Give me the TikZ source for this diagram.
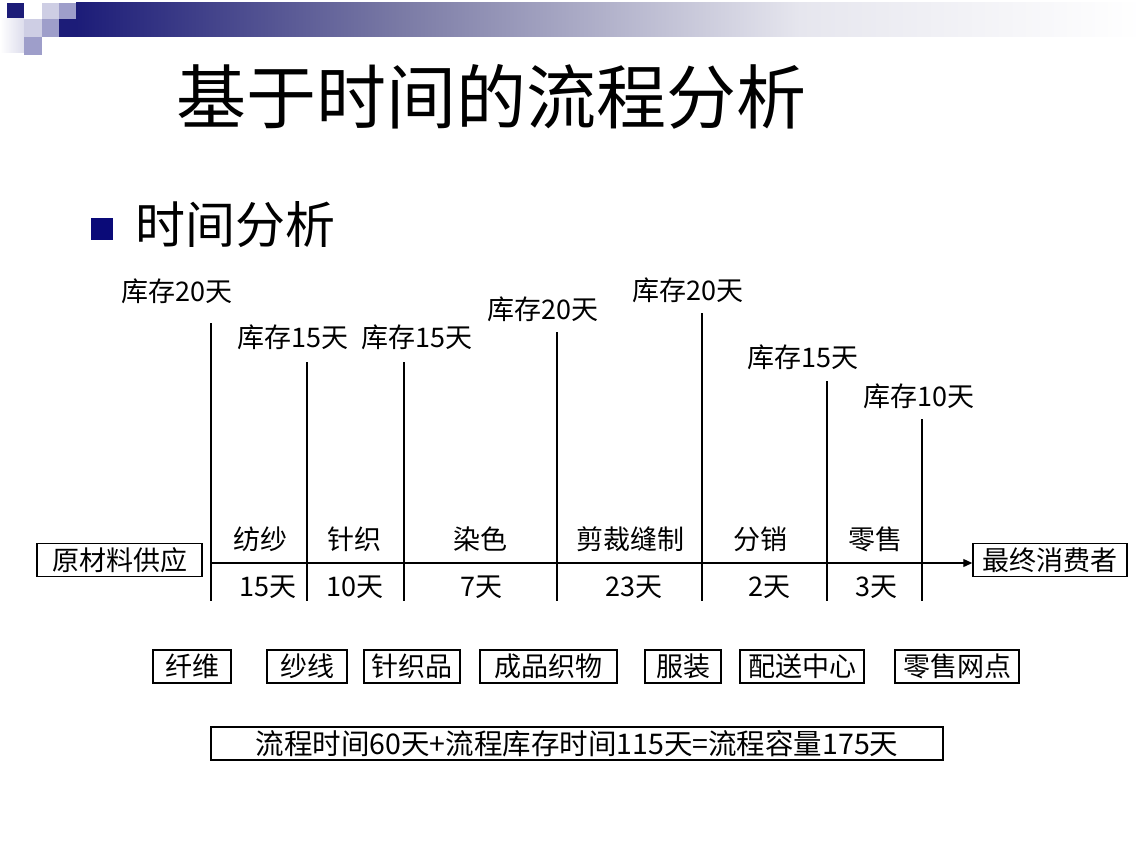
\documentclass[tikz,border=0pt]{standalone}
\usepackage{fontspec}
\setmainfont{Noto Sans CJK SC}
\usetikzlibrary{arrows.meta}
\definecolor{bandnavy}{RGB}{28,28,120}
\definecolor{bandmid}{RGB}{122,122,165}
\definecolor{bandlight}{RGB}{230,230,238}
\definecolor{sqlight}{RGB}{206,206,228}
\definecolor{sqmid}{RGB}{158,158,202}
\definecolor{bulletnavy}{RGB}{10,10,120}
\tikzset{
    stock/.style={font=\fontsize{27}{27}\selectfont, inner sep=0pt},
    stage/.style={font=\fontsize{27}{27}\selectfont, inner sep=0pt},
    itembox/.style={draw, line width=1.5pt, font=\fontsize{27}{27}\selectfont,
        minimum height=33pt, inner sep=0pt},
    bar/.style={line width=1.3pt},
}

\begin{document}
\begin{tikzpicture}[x=1pt, y=-1pt]
    \useasboundingbox (0,0) rectangle (1142,845);
    % header band
    \fill[bandnavy] (7,3) rectangle (24,19);
    \fill[sqlight] (42,3) rectangle (59,19);
    \fill[sqmid] (59,3) rectangle (76,19);
    \shade[left color=white, right color=sqlight!70] (0,19) rectangle (24,53);
    \fill[sqlight] (24,19) rectangle (42,37);
    \fill[sqmid] (42,19) rectangle (59,37);
    \fill[sqmid] (24,37) rectangle (42,55);
    \fill[bandnavy] (59,19) rectangle (76.5,37);
    \shade[left color=bandnavy, right color=bandmid] (76,3) rectangle (400.5,37);
    \shade[left color=bandmid, right color=bandlight] (400,3) rectangle (800.5,37);
    \shade[left color=bandlight, right color=white] (800,3) rectangle (1142,37);

    \node (title) [font=\fontsize{70}{70}\selectfont, inner sep=0pt] at (491,97) {基于时间的流程分析};
    \node (bullet) [fill=bulletnavy, minimum size=22pt, inner sep=0pt] at (102,229) {};
    \node (sub) [font=\fontsize{50}{50}\selectfont, inner sep=0pt] at (235,225) {时间分析};

    % stock lines
    \foreach \n/\x/\top in {1/211/323, 2/307/362, 3/404/362, 4/557/332, 5/702/313, 6/827/381, 7/922/419} {
        \coordinate (t\n) at (\x,\top);
        \coordinate (b\n) at (\x,601);
        \draw[bar] (t\n) -- (b\n);
    }
    \foreach \x/\y/\d in {177/291/20, 293/337/15, 417/337/15, 543/309/20, 688/290/20, 803/357/15, 919/396/10}
        \node[stock] at (\x,\y) {库存\d 天};

    \node (supply) [itembox, minimum width=165pt] at (119.5,560) {原材料供应};
    \node (consumer) [itembox, minimum width=154pt] at (1050,560) {最终消费者};
    \coordinate (start) at (211,563);
    \draw[bar, -{Triangle[length=9pt, width=8pt]}] (start) -- (start -| consumer.west);

    \foreach \x/\t in {260/纺纱, 354/针织, 480/染色, 630/剪裁缝制, 760/分销, 875/零售}
        \node[stage] at (\x,539) {\t};
    \foreach \x/\t in {268/15, 355/10, 481/7, 634/23, 769/2, 876/3}
        \node[stage] at (\x,587) {\t 天};

    % products
    \foreach \n/\x/\w/\t in {fiber/192/78/纤维, yarn/307/80/纱线, knit/412/96/针织品,
        cloth/548.5/137/成品织物, wear/683/76/服装, dist/802/124/配送中心, shop/957/124/零售网点}
        \node (\n) [itembox, minimum width=\w pt] at (\x,666.5) {\t};

    \node (total) [itembox, line width=1.3pt, minimum width=732pt,
        font=\fontsize{28.5}{28.5}\selectfont] at (577,743.5)
        {流程时间60天+流程库存时间115天=流程容量175天};
\end{tikzpicture}
\end{document}
